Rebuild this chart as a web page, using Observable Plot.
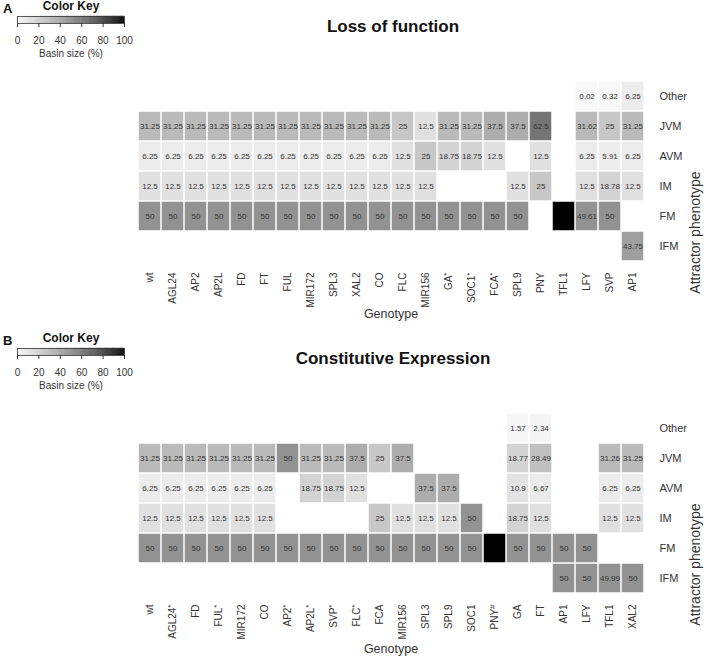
<!DOCTYPE html>
<html><head><meta charset="utf-8">
<script src="https://cdn.jsdelivr.net/npm/d3@7"></script>
<script src="https://cdn.jsdelivr.net/npm/@observablehq/plot@0.6"></script>
<style>
body{margin:0;background:#fff;font-family:"Liberation Sans",Arial,sans-serif;}
#chart{position:relative;width:708px;height:657px;overflow:hidden;background:#fff}
.panel{position:absolute;left:0;width:708px;height:330px}
.panel > *{position:absolute;left:0;top:0}
.tag{left:3px !important;top:1px !important;font-weight:bold;font-size:13px;color:#111}
.title{width:786px;text-align:center;font-weight:bold;font-size:17px;top:17px !important;color:#111}
</style></head><body><div id="chart"></div>
<script>
const phenotypes = ["Other","JVM","AVM","IM","FM","IFM"];

// Panel A: Loss of function
const genotypesA = ["wt","AGL24","AP2","AP2L","FD","FT","FUL","MIR172","SPL3","XAL2","CO","FLC","MIR156","GA*","SOC1*","FCA*","SPL9","PNY","TFL1","LFY","SVP","AP1"];
const otherA = [null,null,null,null,null,null,null,null,null,null,null,null,null,null,null,null,null,null,null,0.02,0.32,6.25];
const jvmA   = [31.25,31.25,31.25,31.25,31.25,31.25,31.25,31.25,31.25,31.25,31.25,25,12.5,31.25,31.25,37.5,37.5,62.5,null,31.62,25,31.25];
const avmA   = [6.25,6.25,6.25,6.25,6.25,6.25,6.25,6.25,6.25,6.25,6.25,12.5,25,18.75,18.75,12.5,null,12.5,null,6.25,5.91,6.25];
const imA    = [12.5,12.5,12.5,12.5,12.5,12.5,12.5,12.5,12.5,12.5,12.5,12.5,12.5,null,null,null,12.5,25,null,12.5,18.78,12.5];
const fmA    = [50,50,50,50,50,50,50,50,50,50,50,50,50,50,50,50,50,null,100,49.61,50,null];
const ifmA   = [null,null,null,null,null,null,null,null,null,null,null,null,null,null,null,null,null,null,null,null,null,43.75];

// Panel B: Constitutive Expression
const genotypesB = ["wt","AGL24*","FD","FUL*","MIR172","CO","AP2*","AP2L*","SVP*","FLC*","FCA","MIR156","SPL3","SPL9","SOC1","PNY#","GA","FT","AP1","LFY","TFL1","XAL2"];
const otherB = [null,null,null,null,null,null,null,null,null,null,null,null,null,null,null,null,1.57,2.34,null,null,null,null];
const jvmB   = [31.25,31.25,31.25,31.25,31.25,31.25,50,31.25,31.25,37.5,25,37.5,null,null,null,null,18.77,28.49,null,null,31.26,31.25];
const avmB   = [6.25,6.25,6.25,6.25,6.25,6.25,null,18.75,18.75,12.5,null,null,37.5,37.5,null,null,10.9,6.67,null,null,6.25,6.25];
const imB    = [12.5,12.5,12.5,12.5,12.5,12.5,null,null,null,null,25,12.5,12.5,12.5,50,null,18.75,12.5,null,null,12.5,12.5];
const fmB    = [50,50,50,50,50,50,50,50,50,50,50,50,50,50,50,100,50,50,50,50,null,null];
const ifmB   = [null,null,null,null,null,null,null,null,null,null,null,null,null,null,null,null,null,null,50,50,49.99,50];

const keyTicks = [0,20,40,60,80,100];

function buildTable(genos, rows){
  const t = [];
  rows.forEach((vals, ri) => vals.forEach((v, gi) => {
    if (v != null) t.push({genotype: genos[gi], phenotype: phenotypes[ri], value: v});
  }));
  return t;
}
const tableA = buildTable(genotypesA, [otherA, jvmA, avmA, imA, fmA, ifmA]);
const tableB = buildTable(genotypesB, [otherB, jvmB, avmB, imB, fmB, ifmB]);

const colorScale = () => ({type:"linear", domain:[0,100], range:["#f8f8f8","#000000"], interpolate: d3.interpolateRgb.gamma(1.3)});
const font = "Liberation Sans, Arial, sans-serif";

function superscripts(svg){
  svg.querySelectorAll("text").forEach(t => {
    if (t.children.length) return;
    const m = t.textContent.match(/^(.+?)([*#])$/);
    if (m){
      t.textContent = m[1];
      const ts = document.createElementNS("http://www.w3.org/2000/svg","tspan");
      ts.setAttribute("dy","-0.45em");
      ts.setAttribute("font-size","8");
      ts.textContent = m[2];
      t.appendChild(ts);
    }
  });
}

function heatmap(genos, table, genoDy){
  const svg = Plot.plot({
    width:708, height:330, marginTop:80, marginBottom:68, marginLeft:136, marginRight:63,
    style:{background:"transparent", fontFamily:font, color:"#333"},
    x:{domain:genos, padding:0, axis:null},
    y:{domain:phenotypes, padding:0, axis:null},
    color: colorScale(),
    marks:[
      Plot.cell(table, {x:"genotype", y:"phenotype", fill:"value", inset:0.75}),
      Plot.text(table.filter(d => d.value < 100), {x:"genotype", y:"phenotype", text:d => String(d.value), fontSize:8, fill:"#333"}),
      Plot.text(genos, {x:d => d, text:d => d, frameAnchor:"bottom", lineAnchor:"middle", dy:10, rotate:-90, textAnchor:"end", fontSize:10, fill:"#333"}),
      Plot.text(phenotypes, {y:d => d, text:d => d, frameAnchor:"right", lineAnchor:"middle", dx:14, textAnchor:"start", fontSize:11, fill:"#333"}),
      Plot.text(["Genotype"], {text:d => d, frameAnchor:"bottom", lineAnchor:"middle", dy:genoDy, fontSize:12.5, fill:"#333"}),
      Plot.text(["Attractor phenotype"], {text:d => d, frameAnchor:"right", lineAnchor:"middle", dx:50, rotate:-90, fontSize:14, fill:"#333"})
    ]
  });
  superscripts(svg);
  return svg;
}

function colorKey(){
  const steps = d3.range(0, 100, 0.5);
  return Plot.plot({
    width:140, height:60, marginLeft:17, marginRight:16, marginTop:16, marginBottom:37,
    style:{background:"transparent", fontFamily:font, fontSize:"10px", color:"#333"},
    x:{domain:[0,100], ticks:keyTicks.length - 1, tickSize:4, tickPadding:9, label:null},
    y:{domain:[0,1], axis:null},
    color: colorScale(),
    marks:[
      Plot.rect(steps, {x1:d => d, x2:d => d + 0.6, y1:0, y2:1, fill:d => d, stroke:d => d, strokeWidth:0.3}),
      Plot.frame({stroke:"#333", strokeWidth:0.8}),
      Plot.text(["Color Key"], {text:d => d, frameAnchor:"top", lineAnchor:"middle", dy:-10, fontSize:12, fontWeight:"bold", fill:"#111"}),
      Plot.text(["Basin size (%)"], {text:d => d, frameAnchor:"bottom", lineAnchor:"middle", dy:30, fontSize:10, fill:"#333"})
    ]
  });
}

function panel(top, tag, title, genos, table, genoDy){
  const p = document.createElement("div");
  p.className = "panel";
  p.style.top = top + "px";
  p.appendChild(heatmap(genos, table, genoDy));
  const key = colorKey();
  p.appendChild(key);
  const t = document.createElement("div"); t.className = "tag"; t.textContent = tag; p.appendChild(t);
  const h = document.createElement("div"); h.className = "title"; h.textContent = title; p.appendChild(h);
  document.getElementById("chart").appendChild(p);
}

panel(0, "A", "Loss of function", genotypesA, tableA, 51);
panel(332, "B", "Constitutive Expression", genotypesB, tableB, 54);
</script></body></html>
